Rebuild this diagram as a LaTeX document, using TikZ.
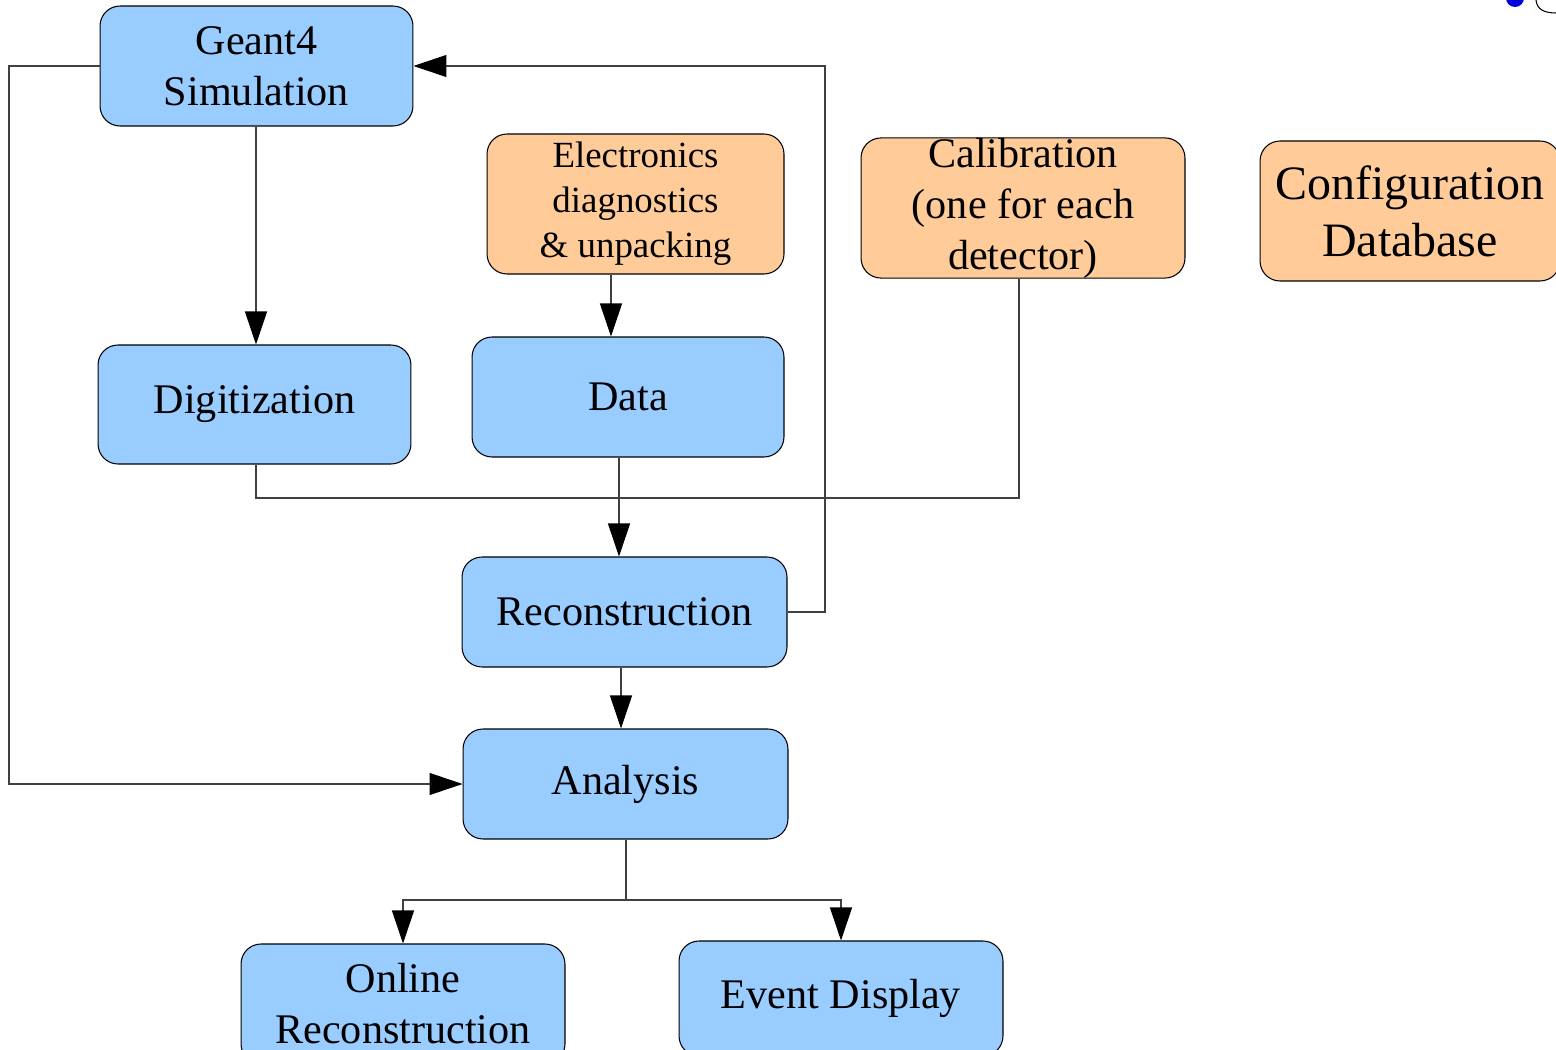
\documentclass[tikz,border=0pt]{standalone}
\usepackage{fontspec}
\setmainfont{Liberation Serif}
\usetikzlibrary{arrows.meta}
\usetikzlibrary{positioning}
\definecolor{boxblue}{HTML}{99CCFF}
\definecolor{boxorange}{HTML}{FFCC99}

\begin{document}
\begin{tikzpicture}[x=0.02cm,y=-0.02cm,
  stage/.style={rectangle,rounded corners=0.4cm,draw=black,line width=0.6pt,fill=boxblue,align=center,inner sep=0pt,font=\fontsize{24}{29}\selectfont},
  service/.style={stage,fill=boxorange},
  flow/.style={draw=black!75,line width=0.6pt},
  head/.style={-{Triangle[length=0.66cm,width=0.44cm,color=black]}}]
\clip (0,0) rectangle (1556,1050);
\fill[white] (0,0) rectangle (1556,1050);

% main chain
\node[stage,minimum width=6.26cm,minimum height=2.4cm] (sim) at (256.5,66) {Geant4\\Simulation};
\node[stage,minimum width=6.26cm,minimum height=2.38cm] (digi) at (254.5,404.5) {Digitization};
\node[stage,minimum width=6.24cm,minimum height=2.4cm] (data) at (628,397) {Data};
\node[stage,minimum width=6.5cm,minimum height=2.2cm] (reco) at (624.5,612) {Reconstruction};
\node[stage,minimum width=6.5cm,minimum height=2.2cm] (ana) at (625.5,784) {Analysis};
\node[stage,minimum width=6.48cm,minimum height=2.4cm] (online) at (403,1004) {Online\\Reconstruction};
\node[stage,minimum width=6.48cm,minimum height=2.3cm] (evd) at (841,998.5) {Event Display};

% services
\node[service,minimum width=5.94cm,minimum height=2.8cm,font=\fontsize{21}{25.6}\selectfont] (elec) at (635.5,204) {Electronics\\diagnostics\\\& unpacking};
\node[service,minimum width=6.48cm,minimum height=2.8cm] (calib) at (1023,208) {Calibration\\(one for each\\detector)};
\node[service,minimum width=6cm,minimum height=2.8cm,font=\fontsize{27.3}{32.4}\selectfont] (cfg) at (1410,211) {Configuration\\Database};

\coordinate (join) at (619,498);
\coordinate (split) at (626,900);

\draw[flow,head] (sim.south -| 256,0) -- (digi.north -| 256,0);
\draw[flow,head] (elec.south -| 611,0) -- (data.north -| 611,0);
\draw[flow] (digi.south -| 256,0) |- (join);
\draw[flow] (calib.south -| 1019,0) |- (join);
\draw[flow,head] (data.south -| join) -- (reco.north -| join);
\draw[flow,head] (reco.east) -- (825,612) |- (sim.east);
\draw[flow,head] (sim.west) -- (9,66) |- (ana.west);
\draw[flow,head] (reco.south -| 621,0) -- (ana.north -| 621,0);
\draw[flow] (ana.south -| split) -- (split);
\draw[flow,head] (split) -| (online.north);
\draw[flow,head] (split) -| (evd.north);

% corner fragment
\fill[blue!85!black] (1515,-2) circle (9);
\draw[line width=0.6pt] (1536,0) .. controls (1537,10) and (1545,13) .. (1556,13);
\end{tikzpicture}
\end{document}
